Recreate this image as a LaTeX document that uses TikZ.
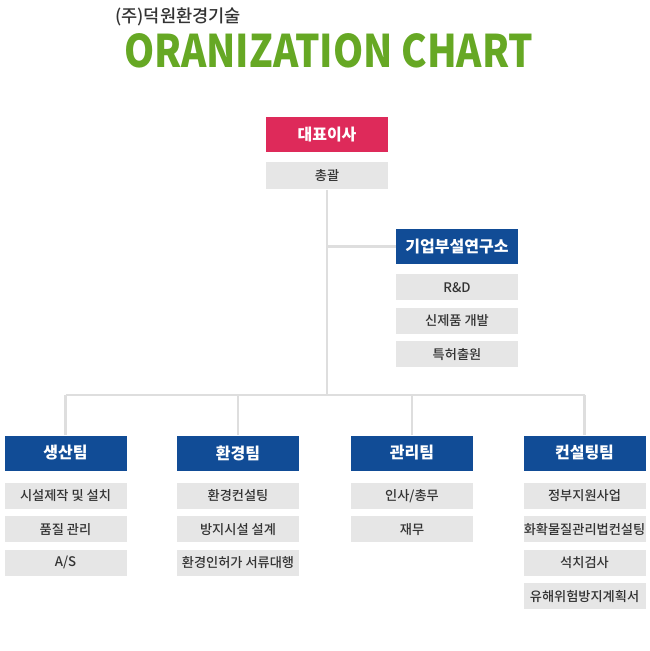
\documentclass[tikz,border=0pt]{standalone}
\usepackage{fontspec}
\setmainfont{Noto Sans CJK KR}
\newfontfamily\krmed{Noto Sans CJK KR Medium}
\usetikzlibrary{positioning}

\definecolor{ceored}{HTML}{DE2A5A}
\definecolor{teamblue}{HTML}{114C96}
\definecolor{itemgray}{HTML}{E6E6E6}
\definecolor{linegray}{HTML}{DEDEDE}
\definecolor{titlegreen}{HTML}{66A824}
\definecolor{textgray}{HTML}{333333}

\begin{document}
\begin{tikzpicture}[x=1pt, y=-1pt,
  head/.style={minimum width=122pt, minimum height=35pt, inner sep=0pt, text=white, font=\fontsize{16}{16}\selectfont\bfseries},
  item/.style={fill=itemgray, minimum width=122pt, minimum height=26pt, inner sep=0pt, text=textgray, font=\krmed\fontsize{13.2}{13.2}\selectfont},
  conn/.style={draw=linegray, line width=2.2pt}]
\useasboundingbox (0,0) rectangle (650,651);

% title
\node[anchor=west, inner sep=0pt, text=textgray, font=\krmed\fontsize{17.6}{17.6}\selectfont] (firm) at (115,16.5) {(주)덕원환경기술};
\node[anchor=north west, inner sep=0pt, text=titlegreen] (title) at (124,33)
  {\resizebox{409pt}{34pt}{\bfseries ORANIZATION CHART}};

% top
\node[head, fill=ceored] (ceo) at (327,134.5) {대표이사};
\node[item, minimum height=27pt, below=10pt of ceo] (gen) {총괄};

% lab
\node[head, fill=teamblue] (lab) at (457,246.5) {기업부설연구소};
\node[item, below=10pt of lab] (lab1) {R\&D};
\node[item, below=7pt of lab1] (lab2) {신제품 개발};
\node[item, below=7pt of lab2] (lab3) {특허출원};

% teams
\node[head, fill=teamblue] (prod) at (65.5,453) {생산팀};
\node[item, below=12pt of prod] (prod1) {시설제작 및 설치};
\node[item, below=7pt of prod1] (prod2) {품질 관리};
\node[item, below=7pt of prod2] (prod3) {A/S};

\node[head, fill=teamblue] (env) at (238,453) {환경팀};
\node[item, below=12pt of env] (env1) {환경컨설팅};
\node[item, below=7pt of env1] (env2) {방지시설 설계};
\node[item, below=7pt of env2] (env3) {환경인허가 서류대행};

\node[head, fill=teamblue] (mgmt) at (412,453) {관리팀};
\node[item, below=12pt of mgmt] (mgmt1) {인사/총무};
\node[item, below=7pt of mgmt1] (mgmt2) {재무};

\node[head, fill=teamblue] (cons) at (584.5,453) {컨설팅팀};
\node[item, below=12pt of cons] (cons1) {정부지원사업};
\node[item, below=7pt of cons1] (cons2) {화확물질관리법컨설팅};
\node[item, below=7pt of cons2] (cons3) {석치검사};
\node[item, below=7pt of cons3] (cons4) {유해위험방지계획서};

% lines
\coordinate (busL) at (65.5,395);
\coordinate (busR) at (584.5,395);
\draw[conn] (busL) -- (busR);
\draw[conn] (gen.south) -- (gen.south |- busL);
\draw[conn] (gen.south |- lab.west) -- (lab.west);
\draw[conn] (prod.north) -- (prod.north |- busL);
\draw[conn] (env.north) -- (env.north |- busL);
\draw[conn] (mgmt.north) -- (mgmt.north |- busL);
\draw[conn] (cons.north) -- (cons.north |- busR);
\end{tikzpicture}
\end{document}
